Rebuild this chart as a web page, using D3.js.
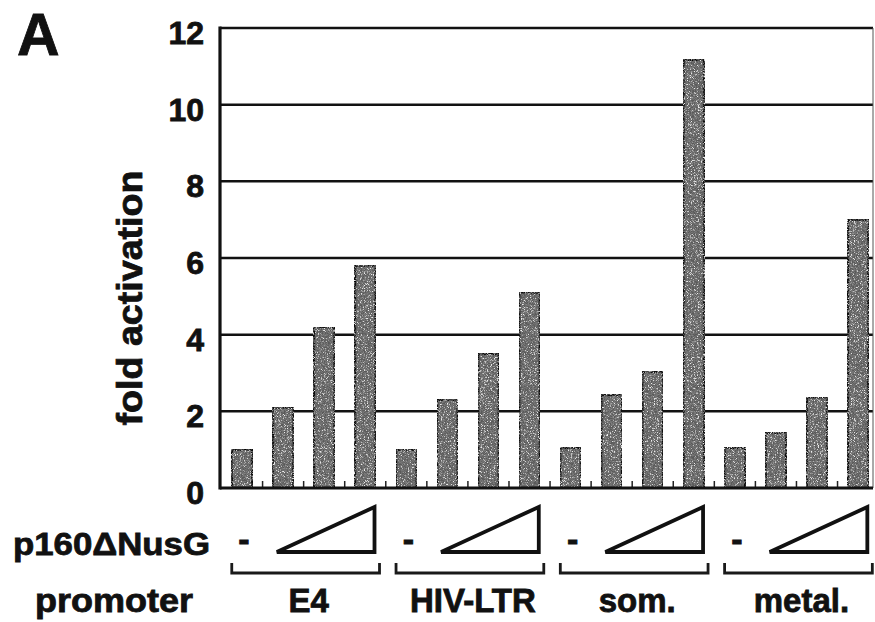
<!DOCTYPE html>
<html>
<head>
<meta charset="utf-8">
<script src="https://cdn.jsdelivr.net/npm/d3@7"></script>
<style>
  html, body { margin: 0; padding: 0; background: #fff; }
  svg { display: block; }
  text { font-family: "Liberation Sans", Arial, Helvetica, sans-serif; font-weight: bold; fill: #111; stroke: #111; stroke-width: 0.8px; }
</style>
</head>
<body>
<script>
// ---- data ----
const promoters = ["E4", "HIV-LTR", "som.", "metal."];
const doses = ["none", "low", "mid", "high"];
const valuesE4 = [1.0, 2.1, 4.2, 5.8];
const valuesHIV = [1.0, 2.3, 3.5, 5.1];
const valuesSom = [1.05, 2.43, 3.03, 11.17];
const valuesMetal = [1.05, 1.44, 2.37, 7.0];
const yTicks = [0, 2, 4, 6, 8, 10, 12];
const panelLabel = "A";
const yTitle = "fold activation";
const doseRowLabel = "p160\u0394NusG";
const promoterRowLabel = "promoter";

const seriesValues = [valuesE4, valuesHIV, valuesSom, valuesMetal];
const rows = [];
promoters.forEach((p, gi) => doses.forEach((d, di) => rows.push({ key: p + "|" + d, promoter: p, dose: d, di, value: seriesValues[gi][di] })));

// ---- layout ----
const W = 875, H = 622;
const frame = { left: 220, right: 873, top: 28, bottom: 488 };

const svg = d3.select("body").append("svg").attr("width", W).attr("height", H);

const defs = svg.append("defs");
const f = defs.append("filter").attr("id", "grain").attr("x", 0).attr("y", 0).attr("width", 1).attr("height", 1);
f.append("feTurbulence").attr("type", "fractalNoise").attr("baseFrequency", 1.3).attr("numOctaves", 2).attr("seed", 7).attr("result", "noise");
f.append("feColorMatrix").attr("in", "noise").attr("type", "matrix")
  .attr("values", "0 0 0 0 0.1  0 0 0 0 0.1  0 0 0 0 0.1  5 0 0 0 -2.1").attr("result", "dots");
f.append("feComposite").attr("in", "dots").attr("in2", "SourceGraphic").attr("operator", "in").attr("result", "darkC");
f.append("feColorMatrix").attr("in", "noise").attr("type", "matrix")
  .attr("values", "0 0 0 0 0.85  0 0 0 0 0.85  0 0 0 0 0.85  0 -5 0 0 2.1").attr("result", "lights");
f.append("feComposite").attr("in", "lights").attr("in2", "SourceGraphic").attr("operator", "in").attr("result", "lightC");
const fm = f.append("feMerge");
fm.append("feMergeNode").attr("in", "SourceGraphic");
fm.append("feMergeNode").attr("in", "darkC");
fm.append("feMergeNode").attr("in", "lightC");

const x = d3.scaleBand().domain(rows.map(r => r.key)).range([221.5, 878.6]).paddingInner(0.5).paddingOuter(0.25);
const y = d3.scaleLinear().domain([0, 12]).range([frame.bottom, frame.top]);
const bw = x.bandwidth();

// gridlines
svg.append("g").selectAll("line").data(yTicks.filter(t => t > 0)).join("line")
  .attr("x1", frame.left).attr("x2", frame.right)
  .attr("y1", d => y(d)).attr("y2", d => y(d))
  .attr("stroke", "#111").attr("stroke-width", 2.5);

// right border (faint)
svg.append("line").attr("x1", frame.right).attr("x2", frame.right).attr("y1", y(12)).attr("y2", y(0))
  .attr("stroke", "#555").attr("stroke-width", 1);

// x minor ticks between bars
const tickXs = rows.slice(0, -1).map((r, i) => (x(r.key) + bw + x(rows[i + 1].key)) / 2);
svg.append("g").selectAll("line").data(tickXs).join("line")
  .attr("x1", d => d).attr("x2", d => d).attr("y1", y(0)).attr("y2", y(0) - 7)
  .attr("stroke", "#222").attr("stroke-width", 1.5);

// bars
svg.append("g").selectAll("rect").data(rows).join("rect")
  .attr("x", d => x(d.key)).attr("width", bw)
  .attr("y", d => y(d.value)).attr("height", d => y(0) - y(d.value))
  .attr("fill", "#767676").attr("stroke", "#0d0d0d").attr("stroke-width", 2.4)
  .attr("filter", "url(#grain)");

// axes lines
svg.append("line").attr("x1", frame.left).attr("x2", frame.right).attr("y1", y(0)).attr("y2", y(0))
  .attr("stroke", "#111").attr("stroke-width", 3.2);
svg.append("line").attr("x1", frame.left).attr("x2", frame.left).attr("y1", y(12) - 1.5).attr("y2", y(0) + 1.5)
  .attr("stroke", "#111").attr("stroke-width", 3.2);

// y tick labels
svg.append("g").selectAll("text").data(yTicks).join("text")
  .attr("x", 204).attr("y", d => y(d) + 16)
  .attr("text-anchor", "end").attr("font-size", 32)
  .text(d => d);

// y title
svg.append("text").attr("transform", "translate(142,298) rotate(-90)")
  .attr("text-anchor", "middle").attr("font-size", 35)
  .attr("textLength", 255).attr("lengthAdjust", "spacingAndGlyphs")
  .text(yTitle);

// panel label
svg.append("text").attr("x", 17).attr("y", 55).attr("font-size", 59).text(panelLabel);

// row labels
svg.append("text").attr("x", 13).attr("y", 555).attr("font-size", 32)
  .attr("textLength", 197).attr("lengthAdjust", "spacingAndGlyphs").text(doseRowLabel);
svg.append("text").attr("x", 35).attr("y", 612).attr("font-size", 33)
  .attr("textLength", 158).attr("lengthAdjust", "spacingAndGlyphs").text(promoterRowLabel);

// per-group annotations
const groupG = svg.append("g").selectAll("g").data(promoters).join("g");
const k = (p, d) => x(p + "|" + d);

// dash for no-protein lane
groupG.append("text")
  .attr("x", p => k(p, doses[0]) + bw / 2 + 2).attr("y", 551)
  .attr("text-anchor", "middle").attr("font-size", 34).text("-");

// wedge triangle
groupG.append("path")
  .attr("d", p => {
    const x0 = k(p, doses[1]) + 4, x1 = k(p, doses[3]) + bw - 1;
    return `M${x0},552 L${x1},507 L${x1},552 Z`;
  })
  .attr("fill", "none").attr("stroke", "#111").attr("stroke-width", 3.8).attr("stroke-linejoin", "miter");

// bracket
groupG.append("path")
  .attr("d", p => {
    const x0 = k(p, doses[0]), x1 = k(p, doses[3]) + bw + 4;
    return `M${x0},563 L${x0},573 L${x1},573 L${x1},563`;
  })
  .attr("fill", "none").attr("stroke", "#1a1a1a").attr("stroke-width", 2.8);

// promoter labels
groupG.append("text")
  .attr("x", p => (k(p, doses[0]) + k(p, doses[3]) + bw) / 2 + 5).attr("y", 612)
  .attr("text-anchor", "middle").attr("font-size", 33)
  .text(p => p);
</script>
</body>
</html>
